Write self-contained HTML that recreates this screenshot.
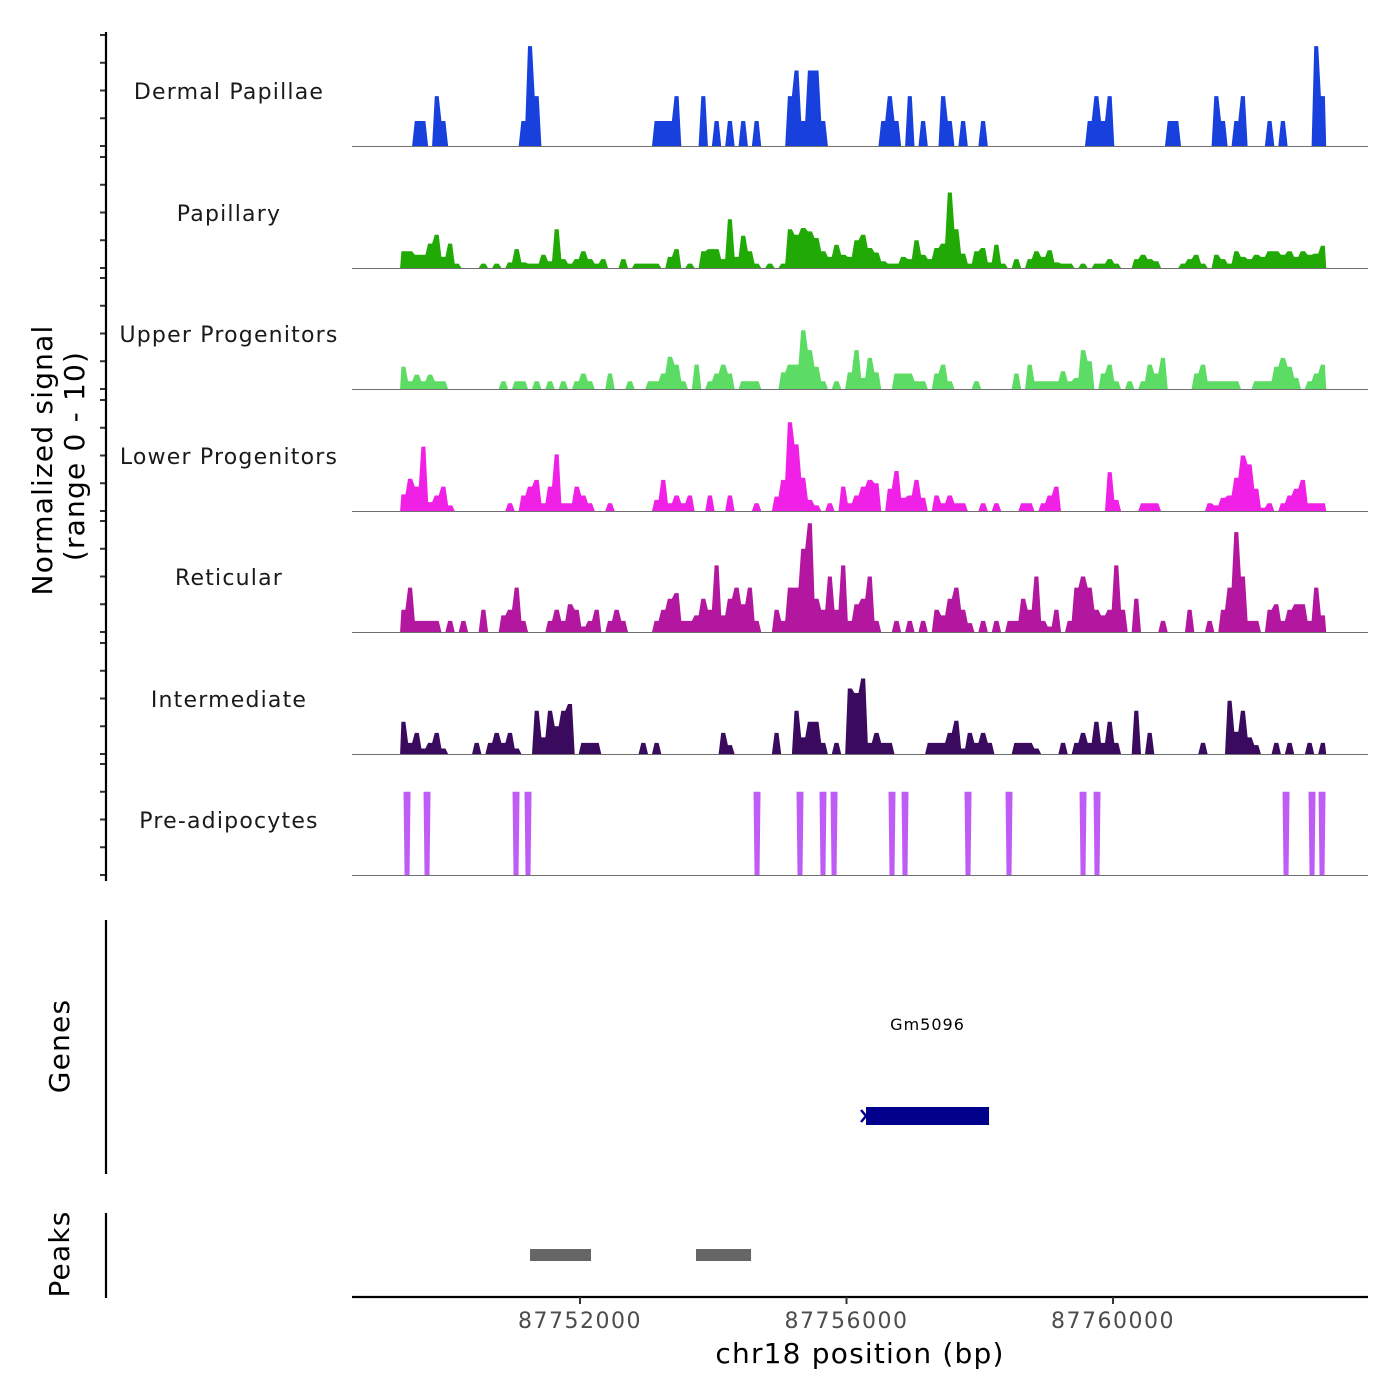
<!DOCTYPE html>
<html><head><meta charset="utf-8"><style>
html,body{margin:0;padding:0;background:#fff;}
svg{display:block;font-family:"DejaVu Sans","Liberation Sans",sans-serif;}
</style></head><body>
<svg id="chart" width="1400" height="1400" viewBox="0 0 1400 1400" xmlns="http://www.w3.org/2000/svg">
<g id="tracks"></g>
<g id="axes"></g>
</svg>
<script>
const binStart = 87749300;
const binSize = 100;
const trackNames = ["Dermal Papillae","Papillary","Upper Progenitors","Lower Progenitors","Reticular","Intermediate","Pre-adipocytes"];
const trackColors = ["#1740dd","#21aa06","#5cdc64","#f020e6","#b4179f","#3a0a5e","#c05cf6"];
const dermal = [0,0,2.25,2.25,0,4.5,2.25,0,0,0, 0,0,0,0,0,0,0,0,2.25,9, 4.5,0,0,0,0,0,0,0,0,0, 0,0,0,0,0,0,0,0,2.25,2.25, 2.25,4.5,0,0,0,4.5,0,2.25,0,2.25, 0,2.25,0,2.25,0,0,0,0,4.5,6.8, 2.25,6.8,6.8,2.25,0,0,0,0,0,0, 0,0,2.25,4.5,2.25,0,4.5,0,2.25,0, 0,4.5,2.25,0,2.25,0,0,2.25,0,0, 0,0,0,0,0,0,0,0,0,0, 0,0,0,2.25,4.5,2.25,4.5,0,0,0, 0,0,0,0,0,2.25,2.25,0,0,0, 0,0,4.5,2.25,0,2.25,4.5,0,0,0, 2.25,0,2.25,0,0,0,0,9,4.5];
const papillary = [1.5,1.5,1.2,1.2,2.2,3.0,1.0,2.2,0.4,0, 0,0,0.4,0,0.4,0,0.5,1.7,0.5,0.4, 0.4,1.2,0.6,3.5,0.8,0.4,0.8,1.5,0.8,0.4, 0.8,0,0,0.8,0,0.4,0.4,0.4,0.4,0, 1.0,1.7,0,0.4,0,1.5,1.7,1.7,0.8,4.4, 1.0,2.9,1.5,0.4,0,0.4,0,0.4,3.5,3.0, 3.6,3.3,2.7,1.5,1.0,2.1,1.2,1.0,2.5,3.0, 1.8,1.4,0.6,0.4,0.4,1.0,0.8,2.5,1.2,0.8, 1.8,2.2,6.8,3.5,1.3,0.4,1.5,1.8,0.5,2.1, 0.4,0,0.8,0,0.8,1.5,1.0,1.6,0.5,0.4, 0.4,0,0.4,0,0.4,0.4,0.8,0.4,0,0, 0.8,1.2,0.8,0.6,0,0,0,0.4,0.8,1.2, 0.4,0,1.2,0.8,0.4,1.5,1.0,0.8,1.2,1.0, 1.5,1.5,1.2,1.5,1.0,1.5,1.2,1.3,2.0];
const upperProg = [2.0,0.7,1.3,0.7,1.3,0.7,0.7,0,0,0, 0,0,0,0,0,0.7,0,0.7,0.7,0, 0.7,0,0.7,0,0.7,0,0.7,1.4,0.7,0, 0,1.4,0,0,0.7,0,0,0.7,0.7,1.4, 2.9,2.2,0.7,0,2.2,0,0.7,1.4,2.2,1.4, 0,0.7,0.7,0.7,0,0,0,1.5,2.2,2.2, 5.3,3.5,2.0,0.7,0,0.7,0,1.5,3.5,1.0, 2.8,1.5,0,0,1.4,1.4,1.4,0.7,0.7,0, 1.4,2.2,0.7,0,0,0,0.7,0,0,0, 0,0,1.4,0,2.2,0.7,0.7,0.7,0.7,1.6, 0.7,1.0,3.5,2.5,0,1.4,2.2,0.7,0,0.7, 0,0.7,2.2,1.4,2.8,0,0,0,0,1.4, 2.2,0.7,0.7,0.7,0.7,0.7,0,0,0.7,0.7, 0.7,2.0,2.8,2.0,1.0,0,0.7,1.4,2.2];
const lowerProg = [1.5,2.9,2.2,5.8,0.8,1.4,2.2,0.5,0,0, 0,0,0,0,0,0,0.7,0,1.4,2.2, 2.8,0.7,2.2,5.1,0.7,0.7,2.2,1.4,0.7,0, 0,0.7,0,0,0,0,0,0,1.0,2.8, 0.7,1.4,0.7,1.4,0,0,1.4,0,0,1.4, 0,0,0,0.7,0,0,1.3,2.8,8.0,6.0, 3.0,1.0,0.5,0,0.7,0,2.2,0.7,1.4,2.2, 2.8,2.5,0,2.0,3.6,1.2,1.4,2.8,1.2,0, 1.4,0.7,1.4,0.7,0.7,0,0,0.7,0,0.7, 0,0,0,0.7,0.7,0,0.7,1.4,2.2,0, 0,0,0,0,0,0,3.5,1.0,0,0, 0,0.7,0.7,0.7,0,0,0,0,0,0, 0,0.7,0.5,1.2,1.4,3.0,5.0,4.2,2.0,0.3, 0.7,0,0.7,1.4,2.0,2.8,0.7,0.7,0.7];
const reticular = [2.0,4.0,1.0,1.0,1.0,1.0,0,1.0,0,1.0, 0,0,2.0,0,0,1.5,2.0,4.0,1.0,0, 0,0,1.0,2.0,1.0,2.5,2.0,0.5,1.0,2.0, 0,1.0,2.0,1.0,0,0,0,0,1.0,2.0, 3.0,3.5,1.0,1.0,1.5,3.0,2.0,6.0,1.5,3.0, 4.0,2.5,4.0,1.0,0,0,2.0,1.0,4.0,4.0, 7.5,9.8,3.0,2.0,5.0,2.0,6.0,1.0,2.5,3.0, 5.0,1.0,0,0,1.0,0,1.0,0,1.0,0, 2.0,1.5,3.0,4.0,2.0,0.8,0,1.0,0,1.0, 0,1.0,1.0,3.0,2.0,5.0,1.0,0.5,2.0,0, 1.0,4.0,5.0,4.0,2.0,1.5,2.0,6.0,2.0,0, 3.0,0,0,0,1.0,0,0,0,2.0,0, 0,1.0,0,2.0,4.0,9.0,5.0,1.0,1.0,0, 2.0,2.5,1.0,2.0,2.5,2.5,1.0,4.0,1.5];
const intermediate = [2.9,1.0,1.9,0.5,1.0,1.9,0.5,0,0,0, 0,1.0,0,1.0,1.9,1.0,1.9,0.5,0,0, 3.9,1.5,3.9,2.5,3.9,4.5,0,1.0,1.0,1.0, 0,0,0,0,0,0,1.0,0,1.0,0, 0,0,0,0,0,0,0,0,1.9,0.8, 0,0,0,0,0,0,1.9,0,0,3.9, 1.5,2.9,2.9,1.0,0,1.0,0,5.9,5.5,6.8, 1.0,1.9,1.0,1.0,0,0,0,0,0,1.0, 1.0,1.0,1.9,3.0,0.5,1.9,1.0,1.9,1.0,0, 0,0,1.0,1.0,1.0,0.5,0,0,0,1.0, 0,1.0,1.9,1.0,2.9,1.0,2.9,1.0,0,0, 3.9,0,1.9,0,0,0,0,0,0,0, 1.0,0,0,0,4.8,2.0,3.9,1.5,0.8,0, 0,1.0,0,1.0,0,0,1.0,0,1.0];
const preAdipoBp = [87749404,87749704,87751040,87751220,87754657,87755302,87755647,87755813,87756683,87756878,87757824,87758439,87759550,87759760,87762597,87762987,87763137];
const preAdipoVal = [7.5,7.5,7.5,7.5,7.5,7.5,7.5,7.5,7.5,7.5,7.5,7.5,7.5,7.5,7.5,7.5,7.5];
const xTicks = [87752000,87756000,87760000];
const xTickLabels = ["87752000","87756000","87760000"];
const geneName = "Gm5096";
const geneStart = 87756293, geneEnd = 87758139;
const peakStarts = [87751250,87753741];
const peakEnds = [87752165,87754567];

const NS = "http://www.w3.org/2000/svg";
const X0 = 352, X1 = 1368, BP0 = 87748578, BP1 = 87763827;
function xs(bp){ return X0 + (bp - BP0) * (X1 - X0) / (BP1 - BP0); }
const unitPx = 11.1;
const baselines = [146, 268, 389, 511, 632, 754, 875];
function ys(v, b){ return b - v * unitPx; }
function mk(tag, attrs, parent){ const e = document.createElementNS(NS, tag); for (const k in attrs) e.setAttribute(k, attrs[k]); parent.appendChild(e); return e; }

const tracksG = document.getElementById('tracks');
const axesG = document.getElementById('axes');
const series = [dermal, papillary, upperProg, lowerProg, reticular, intermediate];

series.forEach((arr, t) => {
  const b = baselines[t];
  const g = mk('g', {}, tracksG);
  
  
  let pts = [[xs(binStart), b]];
  arr.forEach((v, i) => {
    const s = xs(binStart + i * binSize), e = xs(binStart + (i + 1) * binSize), w = e - s;
    pts.push([s + w * 0.2, ys(v, b)]);
    pts.push([e - w * 0.2, ys(v, b)]);
  });
  pts.push([xs(binStart + arr.length * binSize), b]);
  const p = mk('polygon', {points: pts.map(q => q[0].toFixed(1) + ',' + q[1].toFixed(1)).join(' '), fill: trackColors[t]}, g);
  
  
});

{
  const b = baselines[6];
  const g = mk('g', {}, tracksG);
  
  
  preAdipoBp.forEach((bp, i) => {
    const cx = xs(bp), top = ys(preAdipoVal[i], b);
    const p = mk('polygon', {points: `${cx-3.5},${top} ${cx+3.5},${top} ${cx+2.5},${b} ${cx-2.5},${b}`, fill: trackColors[6]}, g);
    
    
  });
}

baselines.forEach((b, t) => {
  const l = mk('line', {x1: X0, x2: X1, y1: b + 0.5, y2: b + 0.5, stroke: '#707070', 'stroke-width': 1}, axesG);
  
  
  const tx = mk('text', {x: 229, y: b - 47, 'text-anchor': 'middle', 'font-size': 22, fill: '#1a1a1a', 'letter-spacing': '1.2'}, axesG);
  tx.textContent = trackNames[t];
  
  
  for (let k = 0; k <= 4; k++) {
    const y = b - k * 2.5 * unitPx;
    const tk = mk('line', {x1: 100, x2: 106, y1: y, y2: y, stroke: '#333', 'stroke-width': 2}, axesG);
    
    
  }
});
</script>
<script>
(function(){
const axesG = document.getElementById('axes');
function add(tag, attrs, name){ const e = document.createElementNS(NS, tag); for (const k in attrs) e.setAttribute(k, attrs[k]); axesG.appendChild(e);
  
  
  return e; }
add('line', {x1:106, x2:106, y1:32, y2:881, stroke:'#000', 'stroke-width':2.2}, 'y-axis-line');
let t = add('text', {x:0, y:0, 'font-size':28, 'text-anchor':'middle', fill:'#000', 'letter-spacing':'1.2', transform:'translate(52,460) rotate(-90)'}, 'y-axis-title');
t.textContent = 'Normalized signal';
t = add('text', {x:0, y:0, 'font-size':28, 'text-anchor':'middle', fill:'#000', 'letter-spacing':'1.2', transform:'translate(84,456) rotate(-90)'}, 'y-axis-subtitle');
t.textContent = '(range 0 - 10)';
add('line', {x1:106, x2:106, y1:920, y2:1174, stroke:'#000', 'stroke-width':2.2}, 'genes-axis-line');
t = add('text', {x:0, y:0, 'font-size':28, 'text-anchor':'middle', fill:'#000', 'letter-spacing':'1.2', transform:'translate(69,1046) rotate(-90)'}, 'genes-axis-title');
t.textContent = 'Genes';
add('rect', {x:xs(geneStart), y:1107, width:xs(geneEnd)-xs(geneStart), height:18, fill:'#00008b'}, 'gene-body');
add('polyline', {points:`${xs(geneStart)-5},1110 ${xs(geneStart)},1116 ${xs(geneStart)-5},1122`, fill:'none', stroke:'#00008b', 'stroke-width':2.5}, 'gene-strand-arrow');
t = add('text', {x:(xs(geneStart)+xs(geneEnd))/2, y:1030, 'font-size':16, 'text-anchor':'middle', fill:'#000', 'letter-spacing':'1'}, 'gene-label');
t.textContent = geneName;
add('line', {x1:106, x2:106, y1:1213, y2:1298, stroke:'#000', 'stroke-width':2.2}, 'peaks-axis-line');
t = add('text', {x:0, y:0, 'font-size':28, 'text-anchor':'middle', fill:'#000', 'letter-spacing':'1.2', transform:'translate(69,1254) rotate(-90)'}, 'peaks-axis-title');
t.textContent = 'Peaks';
peakStarts.forEach((s, i) => {
  add('rect', {x:xs(s), y:1249, width:xs(peakEnds[i])-xs(s), height:12, fill:'#666'}, 'peak-region');
});
add('line', {x1:352, x2:1368, y1:1297, y2:1297, stroke:'#000', 'stroke-width':2.2}, 'x-axis-line');
xTicks.forEach((v, i) => {
  add('line', {x1:xs(v), x2:xs(v), y1:1297, y2:1304, stroke:'#333', 'stroke-width':2}, 'x-tick');
  const tl = add('text', {x:xs(v), y:1328, 'font-size':22, 'text-anchor':'middle', fill:'#4d4d4d', 'letter-spacing':'1.5'}, 'x-tick-label');
  tl.textContent = xTickLabels[i];
});
t = add('text', {x:860, y:1363, 'font-size':28, 'text-anchor':'middle', fill:'#000', 'letter-spacing':'1.2'}, 'x-axis-title');
t.textContent = 'chr18 position (bp)';
})();
</script>
</body></html>
